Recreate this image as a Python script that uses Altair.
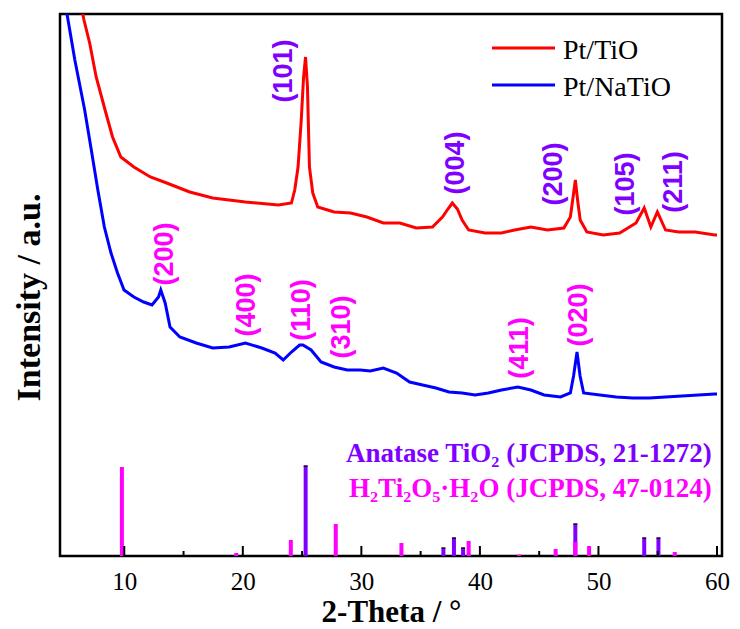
import altair as alt
import pandas as pd

# ---- measured patterns (2-theta in degrees, intensity in a.u.) ----
red_x = [6.2, 6.6, 7.08, 7.63, 8.38, 9.01, 9.71, 10.81, 12.2, 13.58, 15.52, 17.46, 20.22, 23.0, 24.1,
         24.38, 24.66, 24.93, 25.12, 25.29, 25.45, 25.62, 25.9, 26.32, 27.7, 29.09, 30.47, 31.85, 33.24,
         34.63, 36.0, 36.84, 37.3, 37.67, 38.1, 38.5, 39.05, 40.44, 41.82, 42.93, 44.3, 45.7, 47.08,
         47.63, 47.85, 48.05, 48.25, 48.46, 49.02, 50.4, 51.79, 53.17, 53.86, 54.42, 54.97, 55.66,
         56.77, 58.16, 59.82, 60.0]
red_y = [560, 536, 513, 479, 446, 419, 399, 389, 379, 373, 364, 358, 354, 351, 353,
         366, 389, 436, 478, 499, 470, 389, 363, 349, 344, 343, 339, 333, 333,
         328, 329, 339, 347, 353, 347, 336, 326, 323, 323, 326, 329, 326, 328,
         339, 358, 376, 355, 336, 324, 321, 323, 333, 348, 329, 344, 326,
         324, 324, 321, 321]

blue_x = [5.0, 5.17, 5.83, 6.66, 7.22, 7.77, 8.32, 8.88, 9.43, 9.98, 10.81, 11.64, 12.34, 12.89, 13.08,
          13.45, 13.86, 14.69, 16.07, 17.46, 18.85, 20.22, 21.6, 22.72, 23.41, 24.1, 24.79, 25.07,
          25.76, 26.6, 27.7, 28.81, 29.92, 30.75, 31.85, 32.97, 34.07, 35.17, 36.29, 37.39, 38.5,
          39.6, 40.71, 41.82, 43.2, 44.3, 45.42, 46.8, 47.63, 47.9, 48.19, 48.45, 48.75, 50.12,
          51.51, 52.9, 54.28, 55.66, 57.05, 58.43, 59.82, 60.0]
blue_y = [556, 542, 496, 446, 406, 366, 329, 303, 283, 266, 259, 254, 251, 259, 266,
          253, 229, 219, 213, 208, 209, 213, 208, 203, 196, 204, 211, 211,
          206, 194, 189, 186, 186, 185, 188, 183, 174, 171, 168, 164, 163,
          161, 163, 166, 169, 166, 161, 159, 163, 180, 204, 180, 163, 161,
          159, 158, 158, 159, 160, 161, 162, 162]

series_names = ["Pt/TiO", "Pt/NaTiO"]
series_colors = ["#ff0000", "#0000ff"]

# ---- reference cards (stick patterns) ----
anatase_pos = [25.3, 36.92, 37.81, 38.58, 48.05, 53.86, 55.06]
anatase_int = [90, 8, 18, 8, 32, 18, 18]
h2ti_pos = [9.8, 19.45, 24.05, 27.84, 33.38, 39.05, 43.29, 46.39, 48.05, 49.21, 56.44]
h2ti_int = [89, 3, 16, 32, 13, 15, 1.5, 7, 14, 10, 4]

# ---- (hkl) labels ----
anatase_hkl = ["(101)", "(004)", "(200)", "(105)", "(211)"]
anatase_hkl_x = [23.44, 38.01, 46.28, 52.34, 56.41]
anatase_hkl_y = [485, 393, 382, 372, 374]
h2ti_hkl = ["(200)", "(400)", "(110)", "(310)", "(411)", "(020)"]
h2ti_hkl_x = [13.47, 20.37, 25.02, 28.34, 43.37, 48.36]
h2ti_hkl_y = [302, 251, 246, 229, 208, 241]

card_text = ["Anatase TiO\u2082 (JCPDS, 21-1272)", "H\u2082Ti\u2082O\u2085\u00b7H\u2082O (JCPDS, 47-0124)"]
card_text_x = [59.55, 59.55]
card_text_y = [94, 59]

major_ticks = [10, 20, 30, 40, 50, 60]
minor_ticks = [15, 25, 35, 45, 55]

PURPLE = "#8000ff"
MAGENTA = "#ff00ff"

curves = pd.concat([
    pd.DataFrame({"t": red_x, "i": red_y, "s": series_names[0], "o": range(len(red_x))}),
    pd.DataFrame({"t": blue_x, "i": blue_y, "s": series_names[1], "o": range(len(blue_x))}),
])
anatase = pd.DataFrame({"t": anatase_pos, "i": anatase_int})
h2ti = pd.DataFrame({"t": h2ti_pos, "i": h2ti_int})
an_lab = pd.DataFrame({"t": anatase_hkl_x, "i": anatase_hkl_y, "txt": anatase_hkl})
h2_lab = pd.DataFrame({"t": h2ti_hkl_x, "i": h2ti_hkl_y, "txt": h2ti_hkl})
cards = pd.DataFrame({"t": card_text_x, "i": card_text_y, "txt": card_text, "c": [PURPLE, MAGENTA]})
majors = pd.DataFrame({"t": major_ticks})
minors = pd.DataFrame({"t": minor_ticks})

xs = alt.Scale(domain=[5, 60], nice=False, zero=False)
ys = alt.Scale(domain=[0, 542], nice=False, zero=False)

X = alt.X("t:Q", scale=xs,
          axis=alt.Axis(values=major_ticks, format="d", title="2-Theta / \u00b0",
                        ticks=False, domain=False, grid=False, labelPadding=13,
                        labelFont="Liberation Serif", labelFontSize=25, labelColor="black",
                        titleFont="Liberation Serif", titleFontSize=31, titleFontWeight="bold",
                        titleColor="black", titlePadding=3))
Y = alt.Y("i:Q", scale=ys,
          axis=alt.Axis(labels=False, ticks=False, domain=False, grid=False,
                        title="Intensity / a.u.", titleFont="Liberation Serif", titleFontSize=34,
                        titleFontWeight="bold", titleColor="black", titlePadding=14, titleY=283))

lines = alt.Chart(curves).mark_line(clip=True, strokeWidth=3).encode(
    x=X, y=Y, order="o:Q",
    color=alt.Color("s:N", scale=alt.Scale(domain=series_names, range=series_colors), legend=None),
)

# ---- hand-placed legend (pixel positions inside the plot area) ----
leg_layers = []
for k, (name, col) in enumerate(zip(series_names, series_colors)):
    ly = 34 + 37 * k
    leg_df = pd.DataFrame({"s": [name]})
    leg_layers.append(alt.Chart(leg_df).mark_rule(color=col, strokeWidth=3).encode(
        x=alt.value(432), x2=alt.value(495), y=alt.value(ly)))
    leg_layers.append(alt.Chart(leg_df).mark_text(
        font="Liberation Serif", fontSize=28, color="black", align="left", baseline="middle").encode(
        x=alt.value(503), y=alt.value(ly + 3), text="s:N"))

an_bars = alt.Chart(anatase).mark_bar(size=4, color=PURPLE).encode(x="t:Q", y="i:Q")
an_caps = alt.Chart(anatase).mark_tick(color="black", thickness=2, size=4, orient="horizontal").encode(x="t:Q", y="i:Q")
h2_bars = alt.Chart(h2ti).mark_bar(size=4, color=MAGENTA).encode(x="t:Q", y="i:Q")

an_text = alt.Chart(an_lab).mark_text(angle=270, font="Liberation Sans", fontWeight="bold",
                                      fontSize=27, color=PURPLE, align="center", baseline="middle").encode(
    x="t:Q", y="i:Q", text="txt:N")
h2_text = alt.Chart(h2_lab).mark_text(angle=270, font="Liberation Sans", fontWeight="bold",
                                      fontSize=27, color=MAGENTA, align="center", baseline="middle").encode(
    x="t:Q", y="i:Q", text="txt:N")
card_txt = alt.Chart(cards).mark_text(font="Liberation Serif", fontWeight="bold", fontSize=27,
                                      align="right", baseline="alphabetic").encode(
    x="t:Q", y="i:Q", text="txt:N", color=alt.Color("c:N", scale=None))

major_r = alt.Chart(majors).mark_rule(color="black", strokeWidth=2).encode(
    x="t:Q", y=alt.value(542), y2=alt.value(532))
minor_r = alt.Chart(minors).mark_rule(color="black", strokeWidth=2).encode(
    x="t:Q", y=alt.value(542), y2=alt.value(537))

chart = alt.layer(
    an_bars, an_caps, h2_bars, major_r, minor_r, lines, an_text, h2_text, card_txt, *leg_layers
).resolve_scale(color="independent").properties(
    width=662, height=542,
    autosize=alt.AutoSizeParams(type="none"),
    padding={"left": 60, "top": 14, "right": 18, "bottom": 73},
    background="white",
).configure_view(stroke="black", strokeWidth=2.5)

chart.save("out.html", embed_options={"renderer": "svg", "actions": False})
